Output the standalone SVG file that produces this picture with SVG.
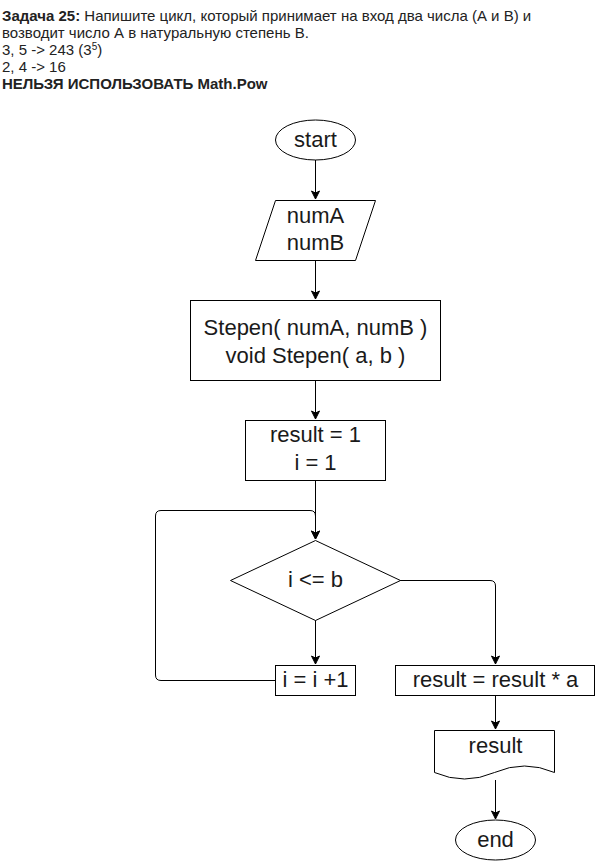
<svg xmlns="http://www.w3.org/2000/svg" width="596" height="861" viewBox="0 0 596 861">
  <style>
    .shape { fill: #ffffff; stroke: #000000; stroke-width: 1; }
    .edge { fill: none; stroke: #000000; stroke-width: 1; }
    .label { font-family: "Liberation Sans", Arial, sans-serif; font-size: 22px; fill: #1a1a1a; text-anchor: middle; }
    .note { font-family: "Liberation Sans", Arial, sans-serif; font-size: 15px; fill: #222222; }
    .bold { font-weight: bold; }
  </style>
  <defs>
    <marker id="arrow" markerWidth="10" markerHeight="10" refX="9" refY="5" orient="auto" markerUnits="userSpaceOnUse">
      <path d="M1,1 L9,5 L1,9 L3,5 Z" fill="#000000" stroke="#000000" stroke-width="1"/>
    </marker>
  </defs>
  <rect x="0" y="0" width="596" height="861" fill="#ffffff"/>

  <!-- task statement -->
  <g id="task">
    <text class="note" x="2" y="21"><tspan class="bold">Задача 25:</tspan> Напишите цикл, который принимает на вход два числа (А и В) и</text>
    <text class="note" x="2" y="38">возводит число А в натуральную степень В.</text>
    <text class="note" x="2" y="55">3, 5 -&gt; 243 (3<tspan font-size="10" dy="-5">5</tspan><tspan dy="5">)</tspan></text>
    <text class="note" x="2" y="72">2, 4 -&gt; 16</text>
    <text class="note bold" x="2" y="89">НЕЛЬЗЯ ИСПОЛЬЗОВАТЬ Math.Pow</text>
  </g>

  <!-- connectors -->
  <g id="connectors">
    <path class="edge" d="M315.5,160 V199" marker-end="url(#arrow)"/>
    <path class="edge" d="M315.5,260 V299" marker-end="url(#arrow)"/>
    <path class="edge" d="M315.5,380 V419" marker-end="url(#arrow)"/>
    <path class="edge" d="M315.5,480 V539" marker-end="url(#arrow)"/>
    <path class="edge" d="M315.5,620 V664" marker-end="url(#arrow)"/>
    <path class="edge" d="M275,680.5 H161 Q155.5,680.5 155.5,675 V516 Q155.5,510.5 161,510.5 H310 Q315.5,510.5 315.5,516 V539" marker-end="url(#arrow)"/>
    <path class="edge" d="M400,580.5 H490 Q495.5,580.5 495.5,586 V664" marker-end="url(#arrow)"/>
    <path class="edge" d="M495.5,695 V729" marker-end="url(#arrow)"/>
    <path class="edge" d="M495.5,780 V819" marker-end="url(#arrow)"/>
  </g>

  <g id="start">
    <ellipse class="shape" cx="315.5" cy="140" rx="40" ry="20"/>
    <text class="label" x="315.5" y="147">start</text>
  </g>

  <g id="input">
    <polygon class="shape" points="275.5,200.5 375.5,200.5 355.5,260.5 255.5,260.5"/>
    <text class="label" x="315.5" y="223">numA</text>
    <text class="label" x="315.5" y="250">numB</text>
  </g>

  <g id="call">
    <rect class="shape" x="190.5" y="300.5" width="250" height="80"/>
    <text class="label" x="315.5" y="335">Stepen( numA, numB )</text>
    <text class="label" x="315.5" y="363">void Stepen( a, b )</text>
  </g>

  <g id="init">
    <rect class="shape" x="245.5" y="420.5" width="140" height="60"/>
    <text class="label" x="315.5" y="442">result = 1</text>
    <text class="label" x="315.5" y="470">i = 1</text>
  </g>

  <g id="condition">
    <polygon class="shape" points="315.5,540.5 400.5,580.5 315.5,620.5 230.5,580.5"/>
    <text class="label" x="315.5" y="587">i &lt;= b</text>
  </g>

  <g id="increment">
    <rect class="shape" x="275.5" y="665.5" width="80" height="30"/>
    <text class="label" x="315.5" y="687">i = i +1</text>
  </g>

  <g id="multiply">
    <rect class="shape" x="395.5" y="665.5" width="199" height="30"/>
    <text class="label" x="495.5" y="687">result = result * a</text>
  </g>

  <g id="output">
    <path class="shape" d="M434.5,730.5 H554.5 V772.5 Q524.5,759.5 494.5,772.5 Q464.5,785.5 434.5,772.5 Z"/>
    <text class="label" x="495.5" y="753">result</text>
  </g>

  <g id="end">
    <ellipse class="shape" cx="495.5" cy="840" rx="40" ry="20"/>
    <text class="label" x="495.5" y="847">end</text>
  </g>
</svg>
